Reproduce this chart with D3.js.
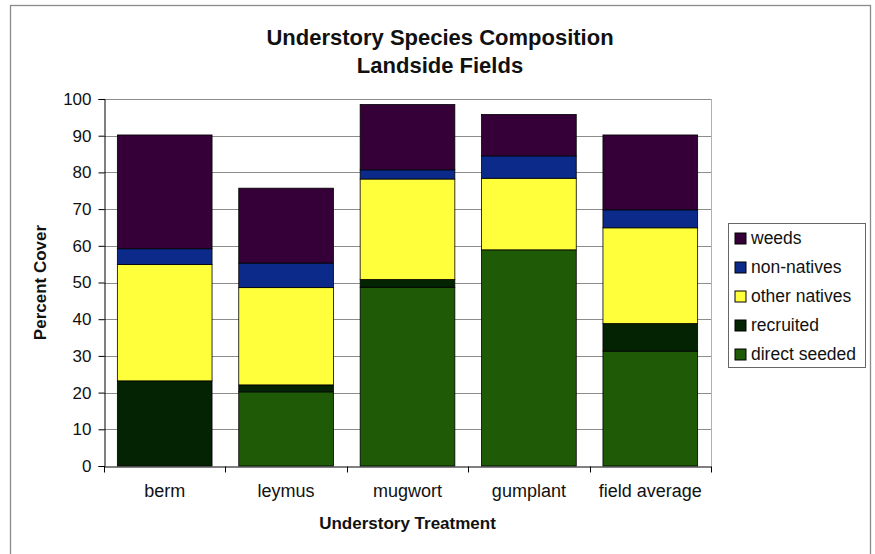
<!DOCTYPE html>
<html>
<head>
<meta charset="utf-8">
<script src="https://cdn.jsdelivr.net/npm/d3@7"></script>
<style>
  html, body { margin: 0; padding: 0; background: #fff; }
  svg { display: block; font-family: "Liberation Sans", Arial, sans-serif; }
</style>
</head>
<body>
<svg id="chart" width="875" height="554"></svg>
<script>
// Understory cover by treatment, stacked from the ground up
const categories = ["berm", "leymus", "mugwort", "gumplant", "field average"];
const directSeeded = [0, 20.2, 48.7, 58.9, 31.3];
const recruited = [23.2, 1.9, 2.1, 0, 7.5];
const otherNatives = [31.7, 26.5, 27.4, 19.5, 26.1];
const nonNatives = [4.3, 6.7, 2.5, 6.1, 4.9];
const weeds = [31.0, 20.4, 17.8, 11.3, 20.4];

const seriesNames = ["direct seeded", "recruited", "other natives", "non-natives", "weeds"];
const seriesColors = ["#1f5a06", "#032303", "#ffff3c", "#0b2a8a", "#340037"];
const yTicks = [0, 10, 20, 30, 40, 50, 60, 70, 80, 90, 100];

const seriesValues = [directSeeded, recruited, otherNatives, nonNatives, weeds];
const rows = categories.map((c, i) => {
  const r = { category: c };
  seriesNames.forEach((s, k) => { r[s] = seriesValues[k][i]; });
  return r;
});

const svg = d3.select("#chart");
const plot = { left: 104, right: 711, top: 99, bottom: 466 };

// chart frame
svg.append("rect")
  .attr("x", 10.5).attr("y", 5.5)
  .attr("width", 860).attr("height", 560)
  .attr("fill", "#fff").attr("stroke", "#8a8a8a").attr("stroke-width", 1.3);

const x = d3.scaleBand()
  .domain(categories)
  .range([plot.left, plot.right])
  .paddingInner(0.22)
  .paddingOuter(0.11);

const y = d3.scaleLinear().domain([0, 100]).range([plot.bottom, plot.top]);

// gridlines
svg.append("g")
  .selectAll("line")
  .data(yTicks.filter(t => t > 0))
  .join("line")
  .attr("x1", plot.left).attr("x2", plot.right)
  .attr("y1", d => Math.round(y(d)) + 0.5).attr("y2", d => Math.round(y(d)) + 0.5)
  .attr("stroke", "#8c8c8c").attr("stroke-width", 1);

// right edge of plot area
svg.append("line")
  .attr("x1", plot.right + 0.5).attr("x2", plot.right + 0.5)
  .attr("y1", plot.top).attr("y2", plot.bottom)
  .attr("stroke", "#b0b0b0");

// stacked bars
const stack = d3.stack().keys(seriesNames);
const stacked = stack(rows);

svg.append("g")
  .selectAll("g")
  .data(stacked)
  .join("g")
  .attr("fill", (d, i) => seriesColors[i])
  .selectAll("rect")
  .data(d => d.filter(p => p[1] - p[0] > 0))
  .join("rect")
  .attr("x", d => x(d.data.category))
  .attr("width", x.bandwidth())
  .attr("y", d => y(d[1]))
  .attr("height", d => y(d[0]) - y(d[1]))
  .attr("stroke", "#000")
  .attr("stroke-width", 0.8);

// y axis
const yAxis = d3.axisLeft(y).tickValues(yTicks).tickSize(6).tickPadding(7);
const gy = svg.append("g")
  .attr("transform", `translate(${plot.left + 0.5},0)`)
  .call(yAxis);
gy.select(".domain").attr("stroke", "#000");
gy.selectAll(".tick line").attr("stroke", "#000");
gy.selectAll(".tick text")
  .attr("font-size", 17).attr("fill", "#111")
  .attr("font-family", "'Liberation Sans', Arial, sans-serif");

// x axis with ticks between categories
const gx = svg.append("g")
  .attr("transform", `translate(0,${plot.bottom + 0.5})`)
  .call(d3.axisBottom(x).tickSize(0).tickPadding(18));
gx.select(".domain").attr("stroke", "#000");
gx.selectAll(".tick text")
  .attr("font-size", 18).attr("fill", "#111")
  .attr("font-family", "'Liberation Sans', Arial, sans-serif");
gx.append("g")
  .selectAll("line")
  .data(d3.range(categories.length + 1))
  .join("line")
  .attr("x1", i => Math.round(plot.left + (plot.right - plot.left) * i / categories.length) + 0.5)
  .attr("x2", i => Math.round(plot.left + (plot.right - plot.left) * i / categories.length) + 0.5)
  .attr("y1", 0).attr("y2", 6)
  .attr("stroke", "#000");

// titles
svg.append("text")
  .attr("x", 440).attr("y", 45)
  .attr("text-anchor", "middle")
  .attr("font-size", 22).attr("font-weight", "bold").attr("fill", "#111")
  .text("Understory Species Composition");
svg.append("text")
  .attr("x", 440).attr("y", 73)
  .attr("text-anchor", "middle")
  .attr("font-size", 22).attr("font-weight", "bold").attr("fill", "#111")
  .text("Landside Fields");

svg.append("text")
  .attr("x", (plot.left + plot.right) / 2).attr("y", 529)
  .attr("text-anchor", "middle")
  .attr("font-size", 17).attr("font-weight", "bold").attr("fill", "#111")
  .text("Understory Treatment");

svg.append("text")
  .attr("transform", `translate(46,${(plot.top + plot.bottom) / 2}) rotate(-90)`)
  .attr("text-anchor", "middle")
  .attr("font-size", 17).attr("font-weight", "bold").attr("fill", "#111")
  .text("Percent Cover");

// legend, top entry is the top of the stack
const legend = svg.append("g").attr("transform", "translate(728,223)");
legend.append("rect")
  .attr("x", 0.5).attr("y", 0.5).attr("width", 137).attr("height", 144)
  .attr("fill", "#fff").attr("stroke", "#666");
const legendOrder = seriesNames.map((s, i) => i).reverse();
const li = legend.selectAll("g.item")
  .data(legendOrder)
  .join("g")
  .attr("class", "item")
  .attr("transform", (d, k) => `translate(7,${15 + k * 29})`);
li.append("rect")
  .attr("x", 0).attr("y", -5).attr("width", 11).attr("height", 11)
  .attr("fill", d => seriesColors[d]).attr("stroke", "#000").attr("stroke-width", 1);
li.append("text")
  .attr("x", 16).attr("y", 6)
  .attr("font-size", 17.5).attr("fill", "#111")
  .text(d => seriesNames[d]);
</script>
</body>
</html>
